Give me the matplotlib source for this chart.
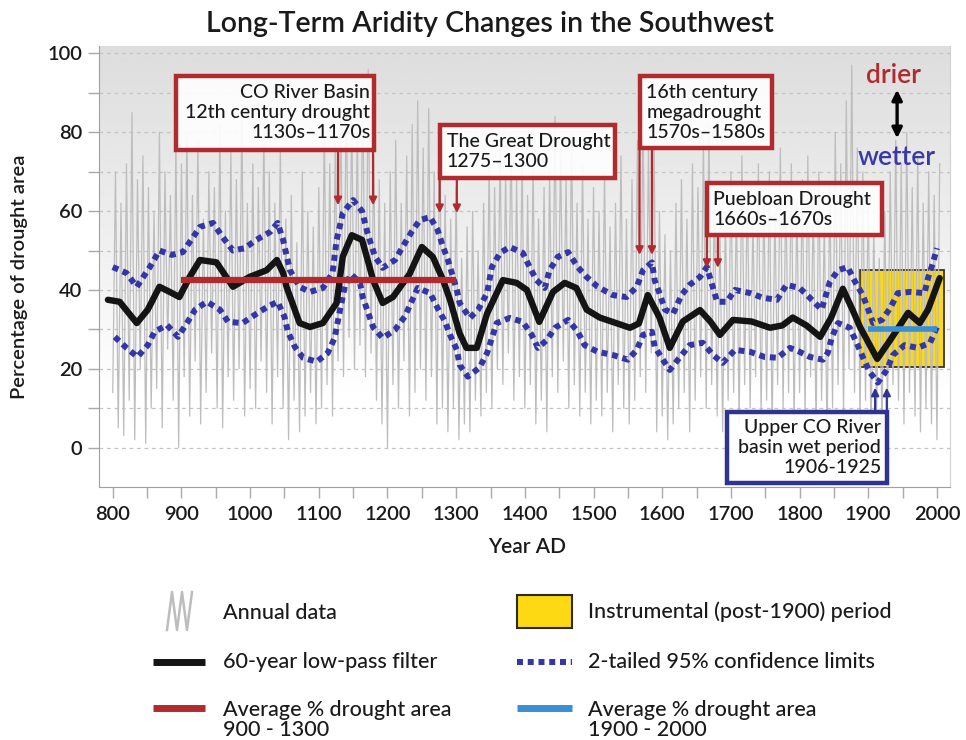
import numpy as np
import matplotlib
matplotlib.use("Agg")
import matplotlib.pyplot as plt
from matplotlib.patches import Rectangle
from matplotlib.lines import Line2D

plt.rcParams['font.family'] = ['Lato', 'DejaVu Sans']

# ---------------- data ----------------
annual_start, annual_step = 800, 4
annual_values = [
    14, 70, 5, 62, 3, 72, 12, 85, 2, 68, 20, 74, 1, 66, 10, 60, 15, 80, 5, 70, 25, 64, 12, 78, 0,
    72, 18, 80, 8, 64, 22, 78, 6, 58, 14, 70, 24, 66, 10, 82, 5, 60, 18, 75, 12, 68, 20, 84, 8, 62,
    15, 72, 10, 66, 22, 80, 14, 70, 6, 62, 18, 76, 10, 58, 2, 64, 12, 52, 4, 70, 8, 60, 14, 56, 6,
    66, 10, 82, 16, 72, 8, 78, 22, 86, 18, 90, 28, 84, 20, 80, 26, 92, 18, 96, 24, 74, 12, 68, 6, 62,
    0, 70, 16, 78, 10, 62, 22, 74, 8, 82, 14, 88, 20, 76, 12, 86, 18, 70, 6, 80, 10, 64, 4, 58, 10,
    66, 2, 48, 6, 56, 4, 60, 12, 50, 8, 62, 14, 72, 10, 66, 20, 76, 16, 70, 24, 80, 12, 68, 18, 74,
    10, 64, 16, 72, 6, 58, 12, 66, 4, 70, 18, 84, 14, 76, 22, 68, 10, 80, 16, 62, 8, 72, 14, 58, 6,
    66, 12, 60, 8, 70, 14, 56, 4, 62, 16, 74, 10, 58, 6, 68, 12, 78, 18, 84, 14, 76, 24, 80, 4, 60,
    8, 54, 2, 50, 6, 62, 10, 68, 14, 58, 4, 72, 12, 66, 18, 78, 10, 82, 16, 64, 8, 56, 4, 60, 12,
    70, 14, 62, 6, 74, 16, 66, 10, 58, 18, 72, 8, 64, 12, 70, 4, 60, 16, 76, 10, 66, 14, 72, 6, 62,
    14, 68, 8, 74, 18, 62, 4, 70, 12, 58, 2, 66, 10, 80, 16, 72, 8, 88, 20, 97, 14, 76, 6, 70, 12,
    64, 2, 56, 8, 48, 4, 60, 10, 70, 16, 78, 12, 72, 6, 80, 14, 66, 8, 74, 4, 62, 10, 70, 6, 64, 2, 72,
]

filter_years = [793, 810, 835, 851, 868, 883, 897, 912, 927, 951, 975, 999, 1024, 1039, 1048,
                1053, 1072, 1087, 1106, 1126, 1135, 1148, 1163, 1174, 1179, 1193, 1208, 1232,
                1250, 1266, 1281, 1291, 1305, 1315, 1330, 1345, 1368, 1388, 1403, 1421, 1441,
                1458, 1475, 1490, 1509, 1553, 1566, 1579, 1596, 1611, 1630, 1655, 1670, 1684,
                1703, 1730, 1757, 1775, 1790, 1810, 1830, 1846, 1863, 1877, 1888, 1913, 1932,
                1958, 1975, 1987, 2004]
filter_values = [37.5, 37, 31.6, 35, 40.8, 39.5, 38.2, 43.3, 47.6, 47, 40.8, 43.3, 45, 47.6, 44.3,
                 40.8, 31.6, 30.6, 31.6, 36.7, 48.5, 53.9, 52.7, 45.8, 42.5, 36.7, 38.2, 44,
                 50.9, 48.4, 42.5, 37.5, 29, 25.3, 25.3, 34, 42.5, 41.8, 40, 31.9, 39.5,
                 41.8, 40.5, 35, 33, 30.4, 31.5, 38.7, 33, 25.3, 32, 34.9, 32, 28.6,
                 32.4, 32, 30.4, 31, 33, 31, 28.1, 33, 40.3, 35, 30.6, 22.5, 27.3,
                 34.2, 31.6, 35, 43]

upper_years = [800, 820, 835, 854, 868, 886, 902, 917, 927, 946, 960, 975, 992, 1009, 1029, 1040,
               1048, 1058, 1072, 1087, 1106, 1120, 1126, 1135, 1150, 1163, 1171, 1182, 1193,
               1211, 1222, 1235, 1247, 1262, 1273, 1281, 1288, 1301, 1305, 1320, 1332, 1345,
               1352, 1364, 1378, 1397, 1407, 1417, 1429, 1436, 1448, 1463, 1477, 1490, 1506,
               1528, 1548, 1563, 1572, 1585, 1589, 1597, 1604, 1616, 1628, 1640, 1655, 1665,
               1680, 1694, 1706, 1728, 1747, 1767, 1781, 1800, 1815, 1832, 1844, 1856, 1870,
               1881, 1892, 1900, 1907, 1920, 1932, 1943, 1961, 1982, 1987, 1994, 2000]
upper_values = [45.8, 44.3, 40.8, 45.8, 50, 48.9, 49.6, 53.4, 56, 57, 53.4, 50, 50.6, 52.7, 54.7, 57,
                52.7, 45, 40.8, 39.5, 40.5, 44.3, 52.7, 59.5, 62.8, 60, 54.4, 48.4, 45.6,
                47.6, 50.9, 54.7, 57.7, 58.5, 55.2, 50.9, 47.6, 40, 36.7, 32.9, 35, 39.2,
                45.8, 49.4, 50.9, 49.4, 45.8, 42.5, 40.5, 45, 48.4, 49.6, 45.8, 43.3, 40.8,
                38.7, 38.2, 40.8, 45, 47, 42.5, 38.7, 35, 34, 38.7, 41.3, 43.3, 45.8,
                37, 37, 40, 39.2, 38, 37.5, 41.3, 40.5, 38, 35, 42, 45, 45.8,
                42, 38.7, 35, 31.6, 32.4, 35.4, 39.2, 39.5, 39.2, 43, 46.8, 50.6]

lower_years = [803, 820, 836, 851, 861, 879, 895, 908, 920, 937, 956, 968, 989, 1007, 1025, 1040,
               1050, 1055, 1065, 1077, 1097, 1113, 1123, 1131, 1138, 1147, 1160, 1164, 1179,
               1193, 1211, 1225, 1235, 1244, 1262, 1273, 1284, 1291, 1301, 1305, 1317, 1334,
               1345, 1352, 1359, 1378, 1397, 1410, 1419, 1432, 1444, 1463, 1477, 1487, 1506,
               1528, 1550, 1563, 1572, 1585, 1589, 1601, 1611, 1626, 1640, 1659, 1674, 1688,
               1706, 1728, 1749, 1768, 1786, 1800, 1815, 1834, 1841, 1847, 1856, 1873, 1883,
               1892, 1902, 1914, 1927, 1936, 1953, 1972, 1990, 2000]
lower_values = [28.1, 25.3, 23, 26, 29.4, 31.1, 28.1, 31.6, 35, 37, 35, 31.9, 31.6, 33.7, 35.7, 37,
                33.2, 29.4, 25.6, 22.8, 21.8, 24, 27.8, 35, 41, 44, 41.8, 38.2, 30.6,
                27.8, 29.9, 33.2, 37, 40.5, 39.2, 35.4, 31.9, 28.6, 24.8, 21, 18, 20.3,
                24, 27.8, 31.6, 32.9, 31.9, 28.6, 25.3, 27.3, 30.4, 32.4, 29.4, 26, 24.3,
                23.5, 22.3, 24.8, 28.6, 29.4, 25.6, 22.3, 19.7, 23, 26, 26.6, 23.5, 21.5,
                24.8, 24.3, 23, 22.8, 25.3, 24.3, 23, 22.3, 24, 28, 31.6, 30.4, 26.6,
                23, 19.2, 16.5, 19.7, 23.5, 26, 25.3, 26.6, 30.6]

avg_early_years = [900, 1300]
avg_early_value = 42.5
avg_late_years = [1900, 2000]
avg_late_value = 30.0
instrumental_years = [1888, 2010]
instrumental_range = [20.5, 45.0]

# ---------------- colours ----------------
RED = '#b02a2e'
DOTBLUE = '#3436a6'
LINEBLUE = '#3a8ed3'
BOXBLUE = '#2f3391'
GRAY = '#bdbdbd'
YELLOW = '#fcd912'
INK = '#1a1a1a'

W, H = 966, 740
fig = plt.figure(figsize=(W / 100, H / 100), dpi=100)
fig.patch.set_facecolor('white')


def fx(x):
    return x / W


def fy(y):
    return 1 - y / H


ax = fig.add_axes([fx(99), fy(487), (950 - 99) / W, (487 - 46) / H])
XL = (780, 2019)
YL = (-10, 101.9)

# background gradient
vals = np.linspace(YL[1], YL[0], 300)
shade = 0.865 + (1 - 0.865) * np.clip((YL[1] - vals) / 90.0, 0, 1)
ax.imshow(shade[:, None], extent=[XL[0], XL[1], YL[0], YL[1]], aspect='auto',
          cmap='gray', vmin=0, vmax=1, zorder=0, interpolation='bilinear')

ax.set_xlim(*XL)
ax.set_ylim(*YL)

# grid
for g in range(0, 101, 10):
    ax.axhline(g, color='#c4c4c4', lw=0.9, ls=(0, (3, 3)), zorder=0.5)

# instrumental period
ax.add_patch(Rectangle((instrumental_years[0], instrumental_range[0]),
                       instrumental_years[1] - instrumental_years[0],
                       instrumental_range[1] - instrumental_range[0],
                       facecolor=YELLOW, edgecolor='#3a3320', lw=1.3, zorder=1))

# annual data
annual_years = annual_start + annual_step * np.arange(len(annual_values))
ax.plot(annual_years, annual_values, color=GRAY, lw=0.9, zorder=2)

# confidence limits
ax.plot(upper_years, upper_values, color=DOTBLUE, lw=4.3, ls=(0, (1.0, 0.8)),
        dash_capstyle='butt', zorder=4)
ax.plot(lower_years, lower_values, color=DOTBLUE, lw=4.3, ls=(0, (1.0, 0.8)),
        dash_capstyle='butt', zorder=4)

# low-pass filter
ax.plot(filter_years, filter_values, color='#141414', lw=4.6, zorder=5,
        solid_joinstyle='round', solid_capstyle='round')

# averages
ax.plot(avg_early_years, [avg_early_value] * 2, color=RED, lw=4.5, zorder=6,
        solid_capstyle='butt')
ax.plot(avg_late_years, [avg_late_value] * 2, color=LINEBLUE, lw=4.0, zorder=6,
        solid_capstyle='butt')

# axes styling
ax.spines['top'].set_visible(False)
ax.spines['left'].set_color('#a99c94')
ax.spines['bottom'].set_color('#a99c94')
ax.spines['right'].set_color('#d0d0d0')
ax.set_xticks(np.arange(800, 2001, 100))
ax.set_xticks(np.arange(850, 2001, 100), minor=True)
ax.set_yticks(np.arange(0, 101, 20))
ax.set_yticks(np.arange(10, 101, 20), minor=True)
ax.tick_params(axis='both', which='both', direction='out', color='#b0a8a2', length=8, width=1)
ax.tick_params(axis='both', which='major', labelsize=14.5, labelcolor=INK)
ax.tick_params(axis='x', pad=6)
ax.tick_params(axis='y', pad=4)
for lab in ax.get_xticklabels() + ax.get_yticklabels():
    lab.set_fontweight('semibold')

fig.text(fx(490), fy(24), 'Long-Term Aridity Changes in the Southwest', ha='center', va='center',
         fontsize=20.5, color=INK, fontweight='semibold')
fig.text(fx(20), fy(277), 'Percentage of drought area', rotation=90, ha='center', va='center',
         fontsize=14.5, color=INK, fontweight='semibold')
fig.text(fx(527), fy(547), 'Year AD', ha='center', va='center', fontsize=15, color=INK,
         fontweight='semibold')

# annotations
def box(x0, x1, y0, y1, ec, text, tx, ty, ha):
    ax.add_patch(Rectangle((x0, y0), x1 - x0, y1 - y0, facecolor='white', alpha=0.9,
                           edgecolor='none', zorder=7, clip_on=False))
    ax.add_patch(Rectangle((x0, y0), x1 - x0, y1 - y0, facecolor='none',
                           edgecolor=ec, lw=3.2, zorder=8, clip_on=False))
    ax.text(tx, ty, text, ha=ha, va='center', fontsize=14, color=INK,
            linespacing=1.2, zorder=9, fontweight='medium')


def arrow(x, y_from, y_to, color):
    ax.annotate('', xy=(x, y_to), xytext=(x, y_from),
                arrowprops=dict(arrowstyle='-|>', color=color, lw=1.6, mutation_scale=11,
                                shrinkA=0, shrinkB=0), zorder=8)


box(892, 1181, 75.4, 94.4, RED, 'CO River Basin\n12th century drought\n1130s\u20131170s',
    1175, 85.0, 'right')
arrow(1128, 75.4, 61.5, RED)
arrow(1179, 75.4, 61.5, RED)

box(1276, 1531, 68.4, 81.8, RED, 'The Great Drought\n1275\u20131300', 1286, 75.2, 'left')
arrow(1276, 68.4, 59.5, RED)
arrow(1301, 68.4, 59.5, RED)

box(1567, 1760, 75.9, 94.4, RED, '16th century\nmegadrought\n1570s\u20131580s', 1577, 85.0, 'left')
arrow(1567, 75.9, 48.9, RED)
arrow(1585, 75.9, 48.9, RED)

box(1665, 1920, 53.9, 67.1, RED, 'Puebloan Drought\n1660s\u20131670s', 1674, 60.5, 'left')
arrow(1665, 53.9, 45.6, RED)
arrow(1681, 53.9, 45.6, RED)

box(1694, 1927, -8.9, 9.1, BOXBLUE, 'Upper CO River\nbasin wet period\n1906-1925', 1919, 0.0, 'right')
arrow(1910, 9.1, 15.2, BOXBLUE)
arrow(1927, 9.1, 15.2, BOXBLUE)

# drier / wetter
ax.text(1936, 94.4, 'drier', color=RED, fontsize=19, ha='center', va='center', zorder=9,
        fontweight='semibold')
ax.text(1942, 73.7, 'wetter', color='#3a3aa6', fontsize=19, ha='center', va='center', zorder=9,
        fontweight='semibold')
ax.annotate('', xy=(1942, 90.8), xytext=(1942, 78.5),
            arrowprops=dict(arrowstyle='<|-|>', color='black', lw=2.4, mutation_scale=15,
                            shrinkA=0, shrinkB=0), zorder=9)

# legend
def fline(x0, x1, y, **kw):
    fig.add_artist(Line2D([fx(x0), fx(x1)], [fy(y), fy(y)], transform=fig.transFigure, **kw))


zx = [167, 172, 177, 182, 187, 192]
zy = [630, 592, 630, 592, 630, 592]
fig.add_artist(Line2D([fx(v) for v in zx], [fy(v) for v in zy], transform=fig.transFigure,
                      color=GRAY, lw=1.8))
fline(153, 205, 662, color='#141414', lw=5, solid_capstyle='butt')
fline(153, 205, 708, color=RED, lw=5, solid_capstyle='butt')
fig.add_artist(Rectangle((fx(517), fy(628)), (572 - 517) / W, (628 - 595) / H,
                         transform=fig.transFigure, facecolor=YELLOW, edgecolor='#2a2a2a', lw=1.5))
fline(517, 572, 662, color=DOTBLUE, lw=4.3, ls=(0, (1.0, 0.8)), dash_capstyle='butt')
fline(517, 572, 708, color=LINEBLUE, lw=5, solid_capstyle='butt')

LFS = 15.5
LW = 'medium'
fig.text(fx(223), fy(613), 'Annual data', fontsize=LFS, va='center', color=INK, fontweight=LW)
fig.text(fx(223), fy(662), '60-year low-pass filter', fontsize=LFS, va='center', color=INK,
         fontweight=LW)
fig.text(fx(223), fy(720), 'Average % drought area\n900 - 1300', fontsize=LFS, va='center',
         color=INK, linespacing=1.05, fontweight=LW)
fig.text(fx(588), fy(612), 'Instrumental (post-1900) period', fontsize=LFS, va='center', color=INK,
         fontweight=LW)
fig.text(fx(588), fy(662), '2-tailed 95% confidence limits', fontsize=LFS, va='center', color=INK,
         fontweight=LW)
fig.text(fx(588), fy(720), 'Average % drought area\n1900 - 2000', fontsize=LFS, va='center',
         color=INK, linespacing=1.05, fontweight=LW)

fig.savefig('out.png', dpi=100)
